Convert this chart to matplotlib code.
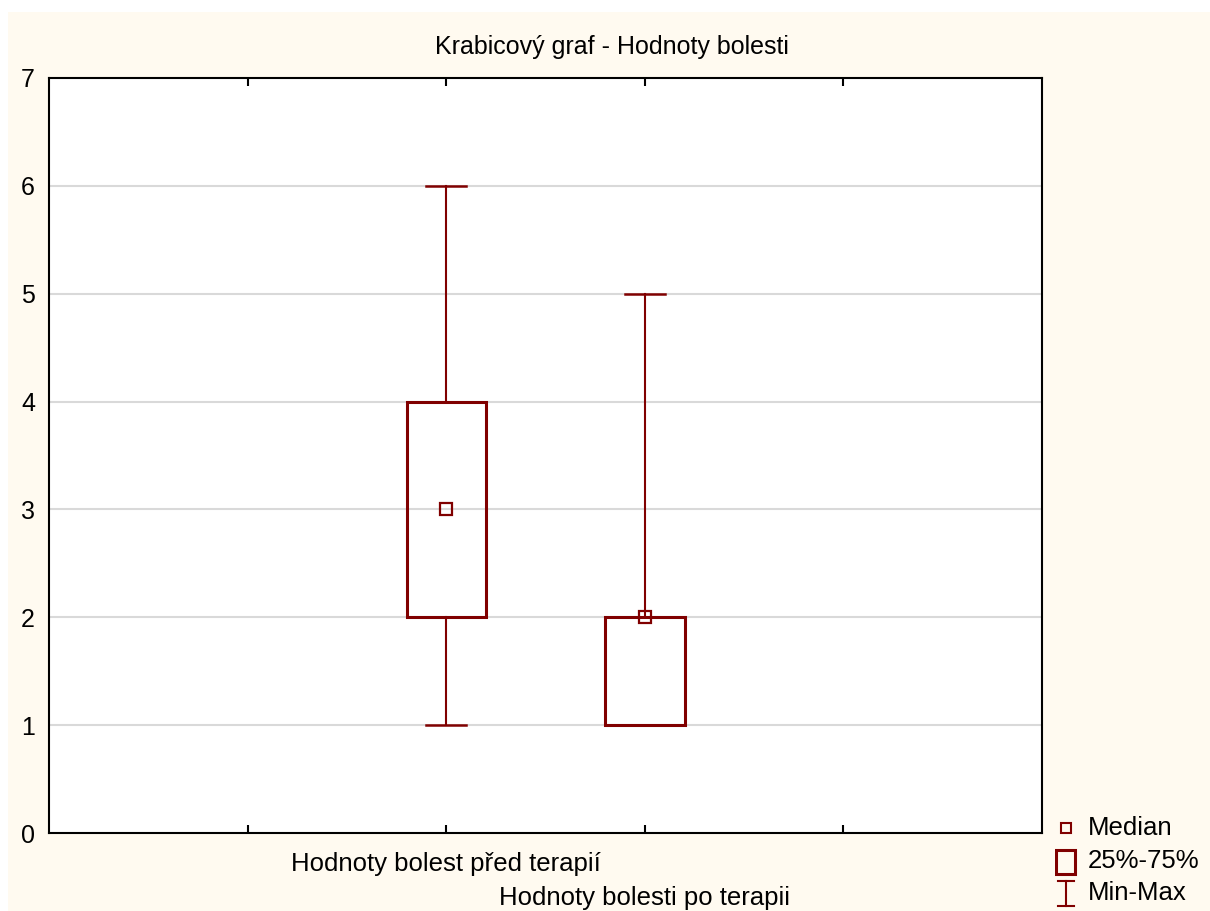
import matplotlib.pyplot as plt
from matplotlib.patches import Rectangle
from matplotlib.transforms import ScaledTranslation

plt.rcParams['font.family'] = ['Liberation Sans', 'DejaVu Sans']

labels = ['Hodnoty bolest před terapií', 'Hodnoty bolesti po terapii']
positions = [2, 3]
mins = [1, 1]
q1 = [2, 1]
medians = [3, 2]
q3 = [4, 2]
maxs = [6, 5]

red = '#800000'
cream = '#fffaf0'

fig = plt.figure(figsize=(12.1, 9.11), dpi=100, facecolor='white')
fig.patches.append(Rectangle((8 / 1210, 0), 1, 1 - 12 / 911, transform=fig.transFigure,
                             facecolor=cream, edgecolor='none', zorder=-10))

ax = fig.add_axes([0.0405, 0.0856, 0.8207, 0.8288])
ax.set_facecolor('white')
ax.set_xlim(0, 5)
ax.set_ylim(0, 7)

for y in range(1, 7):
    ax.axhline(y, color='#d9d9d9', lw=1.5, zorder=0)

box_w = 0.4
cap_w = 0.2
for x, lo, a, m, b, hi in zip(positions, mins, q1, medians, q3, maxs):
    # whiskers with caps
    ax.plot([x, x], [b, hi], color=red, lw=1.5, zorder=2)
    ax.plot([x, x], [lo, a], color=red, lw=1.5, zorder=2)
    ax.plot([x - cap_w / 2, x + cap_w / 2], [hi, hi], color=red, lw=1.8, zorder=2)
    ax.plot([x - cap_w / 2, x + cap_w / 2], [lo, lo], color=red, lw=1.8, zorder=2)
    ax.add_patch(Rectangle((x - box_w / 2, a), box_w, b - a, facecolor='none',
                           edgecolor=red, lw=2.2, zorder=3))
    ax.plot(x, m, marker='s', ms=8, mfc='none', mec=red, mew=1.6, zorder=4)

ax.set_xticks([1, 2, 3, 4])
ax.set_xticklabels(['', labels[0], labels[1], ''], fontsize=18.5)
ax.tick_params(axis='x', direction='in', length=6, width=1.5, top=True, pad=13.5)
# stagger the second category label one row lower
lab = ax.get_xticklabels()[2]
lab.set_transform(lab.get_transform() + ScaledTranslation(0, -0.34, fig.dpi_scale_trans))

ax.set_yticks(range(0, 8))
ax.tick_params(axis='y', length=0, labelsize=18, pad=10)
for s in ax.spines.values():
    s.set_linewidth(1.5)
    s.set_color('black')

fig.text(0.506, 1 - 47 / 911, 'Krabicový graf - Hodnoty bolesti', ha='center', va='center', fontsize=18)

# legend drawn in its own axes
lax = fig.add_axes([1055 / 1210, 0, 155 / 1210, 100 / 911])
lax.set_xlim(0, 155)
lax.set_ylim(911, 811)
lax.axis('off')
lax.plot(11, 828, marker='s', ms=7, mfc='none', mec=red, mew=1.5)
lax.add_patch(Rectangle((1, 850), 19, 24, facecolor='none', edgecolor=red, lw=2.2))
lax.plot([11, 11], [881, 906], color=red, lw=1.5)
lax.plot([3, 19], [881, 881], color=red, lw=1.5)
lax.plot([3, 19], [906, 906], color=red, lw=1.5)
for yy, t in [(828, 'Median'), (861, '25%-75%'), (893, 'Min-Max')]:
    lax.text(33, yy, t, fontsize=18.5, va='center', ha='left')

fig.savefig('out.png', dpi=100, facecolor=fig.get_facecolor())
